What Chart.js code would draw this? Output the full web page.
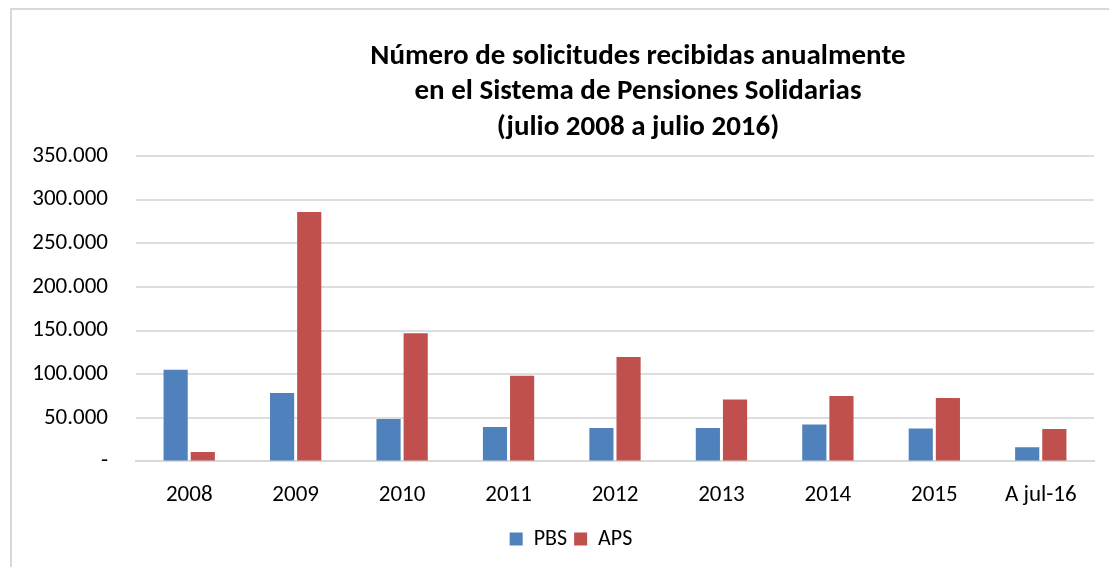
<!DOCTYPE html>
<html>
<head>
<meta charset="utf-8">
<script src="https://cdn.jsdelivr.net/npm/chart.js@4"></script>
<style>
  html, body { margin: 0; padding: 0; background: #fff; }
  #wrap { position: relative; width: 1109px; height: 567px; overflow: hidden; }
  #frame { position: absolute; left: 10px; top: 8px; width: 1200px; height: 700px;
           border-left: 2px solid #d9d9d9; border-top: 2px solid #d9d9d9; }
  canvas { position: absolute; left: 0; top: 0; }
</style>
</head>
<body>
<div id="wrap">
  <div id="frame"></div>
  <canvas id="chart" width="1109" height="567"></canvas>
</div>
<script>
const years = ["2008", "2009", "2010", "2011", "2012", "2013", "2014", "2015", "A jul-16"];
const pbs = [105200, 78300, 48700, 39500, 38400, 38400, 42200, 37600, 16100];
const aps = [10700, 286000, 147000, 98300, 119800, 71000, 74900, 72600, 37200];
const yTicks = [0, 50000, 100000, 150000, 200000, 250000, 300000, 350000];

const fontFam = "Carlito, Lato, 'Open Sans', sans-serif";

function fmt(v) {
    if (v === 0) return "-";
    return String(v).replace(/\B(?=(\d{3})+(?!\d))/g, ".");
}

// title and legend in the original sit off-centre, nudge them sideways
const nudgeBlocks = {
    id: "nudgeBlocks",
    afterLayout(chart) {
        if (chart.titleBlock) {
            chart.titleBlock.left += 91;
            chart.titleBlock.right += 91;
        }
        if (chart.legend) {
            chart.legend.left += 24;
            chart.legend.right += 24;
        }
    }
};

document.addEventListener("DOMContentLoaded", function () {
    const ctx = document.getElementById("chart");

    new Chart(ctx, {
        type: "bar",
        data: {
            labels: years,
            datasets: [
                { label: "PBS", data: pbs, backgroundColor: "#4F81BD", borderWidth: 0 },
                { label: "APS", data: aps, backgroundColor: "#C0504D", borderWidth: 0 }
            ]
        },
        options: {
            responsive: false,
            animation: false,
            categoryPercentage: 0.51,
            barPercentage: 0.89,
            layout: { padding: { left: 0, right: 15, top: 0, bottom: 7 } },
            plugins: {
                title: {
                    display: true,
                    text: ["Número de solicitudes recibidas anualmente", "en el Sistema de Pensiones Solidarias", "(julio 2008 a julio 2016)"],
                    color: "#000",
                    font: { family: fontFam, size: 29, weight: "bold", lineHeight: 1.22 },
                    padding: { top: 39, bottom: 11 }
                },
                legend: {
                    position: "bottom",
                    labels: {
                        color: "#000",
                        font: { family: fontFam, size: 22 },
                        boxWidth: 13,
                        boxHeight: 13,
                        padding: 7
                    }
                },
                tooltip: { enabled: false }
            },
            scales: {
                x: {
                    grid: { display: false },
                    border: { color: "#d9d9d9", width: 2 },
                    ticks: { color: "#000", font: { family: fontFam, size: 23 }, padding: 12 }
                },
                y: {
                    min: 0,
                    max: 350000,
                    afterBuildTicks: function (scale) {
                        scale.ticks = yTicks.map(v => ({ value: v }));
                    },
                    afterFit: function (scale) { scale.width = 136; },
                    grid: { color: "#dedede", lineWidth: 2, drawTicks: false },
                    border: { display: false },
                    ticks: {
                        color: "#000",
                        font: { family: fontFam, size: 23 },
                        padding: 28,
                        callback: function (v) { return fmt(v); }
                    }
                }
            }
        },
        plugins: [nudgeBlocks]
    });
});
</script>
</body>
</html>
